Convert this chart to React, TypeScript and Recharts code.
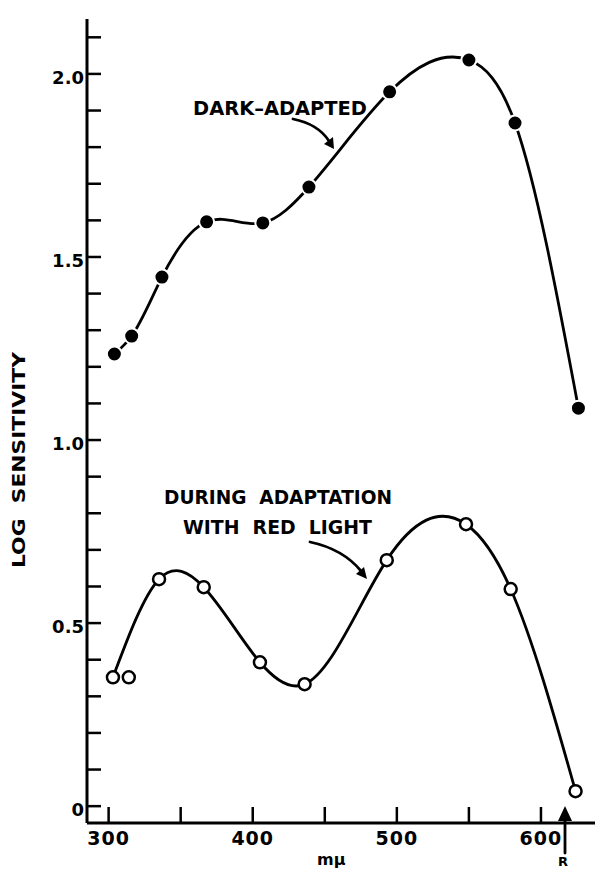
import React from "react";
import { ComposedChart, Line, XAxis, YAxis } from "recharts";

// wavelength (m\u03bc) and log sensitivity
const darkWavelengths = [304, 316, 337, 368, 407, 439, 495, 550, 582, 626];
const darkLogSens = [1.235, 1.284, 1.445, 1.596, 1.593, 1.691, 1.951, 2.038, 1.866, 1.087];

const redWavelengths = [303, 335, 366, 405, 436, 493, 548, 579, 624];
const redLogSens = [0.352, 0.62, 0.598, 0.393, 0.333, 0.672, 0.77, 0.593, 0.041];

// the second open point sits off the drawn curve
const redExtraWavelengths = [314];
const redExtraLogSens = [0.352];

const xTicks = [300, 350, 400, 450, 500, 550, 600];
const xLabelled = [300, 400, 500, 600];
const yTicks = [0, 0.1, 0.2, 0.3, 0.4, 0.5, 0.6, 0.7, 0.8, 0.9, 1.0, 1.1, 1.2, 1.3, 1.4, 1.5, 1.6, 1.7, 1.8, 1.9, 2.0, 2.1];
const yLabelled = [0, 0.5, 1.0, 1.5, 2.0];

const toRows = (xs: number[], ys: number[]) => xs.map((x, i) => ({ x, y: ys[i] }));
const darkData = toRows(darkWavelengths, darkLogSens);
const redData = toRows(redWavelengths, redLogSens);
const redExtraData = toRows(redExtraWavelengths, redExtraLogSens);

const FONT = "'DejaVu Sans', sans-serif";

// natural cubic spline with y as a function of x (hand-drawn french-curve look)
function splineX(context: any) {
    let xs: number[] = [];
    let ys: number[] = [];
    return {
        areaStart() {},
        areaEnd() {},
        lineStart() {
            xs = [];
            ys = [];
        },
        point(x: number, y: number) {
            xs.push(+x);
            ys.push(+y);
        },
        lineEnd() {
            const n = xs.length;
            if (!n) return;
            context.moveTo(xs[0], ys[0]);
            if (n === 1) return;
            if (n === 2) {
                context.lineTo(xs[1], ys[1]);
                return;
            }
            const h: number[] = [];
            for (let i = 0; i < n - 1; i++) h.push(xs[i + 1] - xs[i]);
            // solve for second derivatives, M0 = Mn = 0
            const M = new Array(n).fill(0);
            const a: number[] = [], b: number[] = [], c: number[] = [], r: number[] = [];
            for (let i = 1; i < n - 1; i++) {
                a.push(h[i - 1]);
                b.push(2 * (h[i - 1] + h[i]));
                c.push(h[i]);
                r.push(6 * ((ys[i + 1] - ys[i]) / h[i] - (ys[i] - ys[i - 1]) / h[i - 1]));
            }
            const m = b.length;
            for (let i = 1; i < m; i++) {
                const w = a[i] / b[i - 1];
                b[i] -= w * c[i - 1];
                r[i] -= w * r[i - 1];
            }
            const sol = new Array(m).fill(0);
            sol[m - 1] = r[m - 1] / b[m - 1];
            for (let i = m - 2; i >= 0; i--) sol[i] = (r[i] - c[i] * sol[i + 1]) / b[i];
            for (let i = 0; i < m; i++) M[i + 1] = sol[i];
            for (let i = 0; i < n - 1; i++) {
                const s = (ys[i + 1] - ys[i]) / h[i];
                const d0 = s - (h[i] * (2 * M[i] + M[i + 1])) / 6;
                const d1 = s + (h[i] * (M[i] + 2 * M[i + 1])) / 6;
                context.bezierCurveTo(
                    xs[i] + h[i] / 3, ys[i] + (d0 * h[i]) / 3,
                    xs[i + 1] - h[i] / 3, ys[i + 1] - (d1 * h[i]) / 3,
                    xs[i + 1], ys[i + 1]
                );
            }
        },
    };
}

const XTick = (props: any) => {
    const { x, y, payload } = props;
    const v = payload.value;
    return (
        <g>
            <line x1={x} y1={y} x2={x} y2={y - 16} stroke="#000" strokeWidth={2.5} />
            {xLabelled.includes(v) && (
                <text x={x} y={y + 22} textAnchor="middle" fontFamily={FONT} fontWeight="bold" fontSize={19} letterSpacing={1} fill="#000">
                    {v}
                </text>
            )}
        </g>
    );
};

const YTick = (props: any) => {
    const { x, y, payload } = props;
    const v = payload.value;
    const labelled = yLabelled.some((l) => Math.abs(l - v) < 1e-6);
    return (
        <g>
            <line x1={x} y1={y} x2={x + 14} y2={y} stroke="#000" strokeWidth={2.5} />
            {labelled && (
                <text x={x - 3} y={y + 10} textAnchor="end" fontFamily={FONT} fontWeight="bold" fontSize={18} fill="#000">
                    {v === 0 ? "0" : v.toFixed(1)}
                </text>
            )}
        </g>
    );
};

export default function App() {
    return (
        <div style={{ position: "absolute", left: 0, top: 0, width: 595, height: 871, background: "#fff" }}>
            <ComposedChart width={595} height={871} margin={{ top: 19, right: 0, bottom: 0, left: 0 }}>
                <XAxis
                    type="number"
                    dataKey="x"
                    domain={[285, 637.5]}
                    ticks={xTicks}
                    tick={<XTick />}
                    tickLine={false}
                    tickSize={0}
                    tickMargin={0}
                    height={48}
                    axisLine={{ stroke: "#000", strokeWidth: 3 }}
                    allowDataOverflow
                />
                <YAxis
                    type="number"
                    domain={[-0.046, 2.15]}
                    ticks={yTicks}
                    tick={<YTick />}
                    tickLine={false}
                    tickSize={0}
                    tickMargin={0}
                    width={87}
                    axisLine={{ stroke: "#000", strokeWidth: 3 }}
                    allowDataOverflow
                />
                <Line
                    data={darkData}
                    dataKey="y"
                    type={splineX as any}
                    stroke="#000"
                    strokeWidth={2.8}
                    dot={{ r: 7.5, fill: "#000", stroke: "#fff", strokeWidth: 2 }}
                    isAnimationActive={false}
                />
                <Line
                    data={redData}
                    dataKey="y"
                    type={splineX as any}
                    stroke="#000"
                    strokeWidth={2.8}
                    dot={{ r: 6, fill: "#fff", stroke: "#000", strokeWidth: 2.5 }}
                    isAnimationActive={false}
                />
                <Line
                    data={redExtraData}
                    dataKey="y"
                    stroke="none"
                    dot={{ r: 6, fill: "#fff", stroke: "#000", strokeWidth: 2.5 }}
                    isAnimationActive={false}
                />
            </ComposedChart>
            <svg width={595} height={871} style={{ position: "absolute", left: 0, top: 0, pointerEvents: "none" }}>
                <g fontFamily={FONT} fontWeight="bold" fill="#000">
                    <text x={193} y={115} fontSize={20} textLength={174} lengthAdjust="spacingAndGlyphs">DARK–ADAPTED</text>
                    <text x={164} y={504} fontSize={20} textLength={228} lengthAdjust="spacingAndGlyphs" style={{ whiteSpace: "pre" }}>DURING  ADAPTATION</text>
                    <text x={183} y={534} fontSize={20} textLength={189} lengthAdjust="spacingAndGlyphs" style={{ whiteSpace: "pre" }}>WITH  RED  LIGHT</text>
                    <text x={25} y={460} fontSize={17} textAnchor="middle" transform="rotate(-90 25 460)" textLength={216} lengthAdjust="spacingAndGlyphs" style={{ whiteSpace: "pre" }}>
                        LOG  SENSITIVITY
                    </text>
                    <text x={317} y={865} fontSize={16}>mμ</text>
                    <text x={563} y={866} fontSize={13} textAnchor="middle">R</text>
                </g>
                <g stroke="#000" strokeWidth={2.8} fill="none" strokeLinecap="round">
                    <path d="M 293 119 Q 318 124 329 141" />
                    <path d="M 310 542 Q 343 549 361 571" />
                    <line x1={565} y1={853} x2={565} y2={818} />
                </g>
                <g fill="#000">
                    <polygon points="334,149 324,144 333,137" />
                    <polygon points="367,579 356,574 364,567" />
                    <polygon points="565,806 558,821 572,821" />
                </g>
            </svg>
        </div>
    );
}
